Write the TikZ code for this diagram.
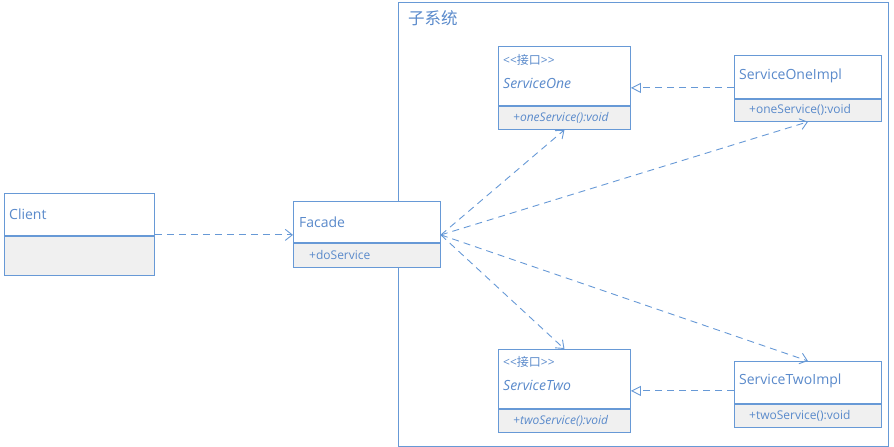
\documentclass[tikz,border=0pt]{standalone}
\usepackage{fontspec}
\setmainfont{Open Sans}
\newfontfamily\cjk{Noto Sans CJK SC}
\usetikzlibrary{arrows.meta,calc,positioning}
\definecolor{UmlLine}{HTML}{6799D6}
\definecolor{UmlText}{HTML}{5A8ACB}
\definecolor{UmlFill}{HTML}{F0F0F0}

\begin{document}
\begin{tikzpicture}[x=1pt,y=-1pt,
    every node/.style={text=UmlText,inner sep=0pt},
    headbox/.style={draw=UmlLine,line width=0.9pt,fill=white,anchor=north west,minimum width=#1},
    opsbox/.style={draw=UmlLine,line width=0.9pt,fill=UmlFill,minimum width=#1},
    nametext/.style={anchor=west,font=\fontsize{14}{16}\selectfont},
    optext/.style={anchor=west,font=\fontsize{12}{14}\selectfont},
    stereo/.style={anchor=west,font=\fontsize{12}{14}\selectfont},
    dep/.style={draw=UmlLine,line width=0.9pt,dash pattern=on 7pt off 5pt,-{Straight Barb[length=7pt,width=11pt]}},
    realize/.style={draw=UmlLine,line width=0.9pt,dash pattern=on 7pt off 5pt,-{Triangle[open,length=10pt,width=10pt,fill=white]}}
]
  \useasboundingbox (0,0) rectangle (894,447);

  % subsystem frame
  \node[draw=UmlLine,line width=0.9pt,anchor=north west,minimum width=490pt,minimum height=444pt] (subsys) at (398,2) {};
  \node[anchor=west,font=\cjk\fontsize{16.5}{18}\selectfont] (subsyslabel) at (408,18) {子系统};

  % Client
  \node[headbox=150pt,minimum height=42pt] (clienthead) at (4,193) {};
  \node[opsbox=150pt,minimum height=39pt,below=0pt of clienthead] (clientops) {};
  \node[nametext] (clientname) at ($(clienthead.north west)+(5,21)$) {Client};

  % Facade
  \node[headbox=147pt,minimum height=41pt] (facadehead) at (293,201) {};
  \node[opsbox=147pt,minimum height=24pt,below=0pt of facadehead] (facadeops) {};
  \node[nametext] (facadename) at ($(facadehead.north west)+(6,21)$) {Facade};
  \node[optext] (facadeop) at ($(facadeops.west)+(16,0)$) {+doService};

  % ServiceOne
  \node[headbox=132pt,minimum height=59pt] (onehead) at (498,46) {};
  \node[opsbox=132pt,minimum height=23pt,below=0pt of onehead] (oneops) {};
  \node[stereo] (onestereo) at ($(onehead.north west)+(5,14)$) {{<}{<}{\cjk 接口}{>}{>}};
  \node[nametext] (onename) at ($(onehead.north west)+(5,37)$) {\itshape ServiceOne};
  \node[optext] (oneop) at ($(oneops.west)+(15,0)$) {\itshape +oneService():void};

  % ServiceOneImpl
  \node[headbox=147pt,minimum height=43pt] (oneimplhead) at (734,55) {};
  \node[opsbox=147pt,minimum height=22pt,below=0pt of oneimplhead] (oneimplops) {};
  \node[nametext] (oneimplname) at ($(oneimplhead.north west)+(5,21)$) {ServiceOneImpl};
  \node[optext] (oneimplop) at ($(oneimplops.west)+(15,0)$) {+oneService():void};

  % ServiceTwo
  \node[headbox=132pt,minimum height=59pt] (twohead) at (498,349) {};
  \node[opsbox=132pt,minimum height=23pt,below=0pt of twohead] (twoops) {};
  \node[stereo] (twostereo) at ($(twohead.north west)+(5,13)$) {{<}{<}{\cjk 接口}{>}{>}};
  \node[nametext] (twoname) at ($(twohead.north west)+(5,36)$) {\itshape ServiceTwo};
  \node[optext] (twoop) at ($(twoops.west)+(15,0)$) {\itshape +twoService():void};

  % ServiceTwoImpl
  \node[headbox=147pt,minimum height=42pt] (twoimplhead) at (734,361) {};
  \node[opsbox=147pt,minimum height=23pt,below=0pt of twoimplhead] (twoimplops) {};
  \node[nametext] (twoimplname) at ($(twoimplhead.north west)+(5,20)$) {ServiceTwoImpl};
  \node[optext] (twoimplop) at ($(twoimplops.west)+(15,0)$) {+twoService():void};

  % connectors
  \coordinate (hub) at ($(facadehead.south east)+(0,-8)$);
  \draw[dep] ($(clienthead.south east)+(0,-1)$) -- ($(clienthead.south east -| facadehead.west)+(0,-1)$);
  \draw[dep] (hub) -- (oneops.south);
  \draw[dep] (hub) -- (oneimplops.south);
  \draw[dep] (hub) -- (twohead.north);
  \draw[dep] (hub) -- (twoimplhead.north);
  \draw[realize] ($(oneimplhead.south west)+(0,-11)$) -- ($(oneimplhead.south west -| onehead.east)+(0,-11)$);
  \draw[realize] ($(twoimplhead.south west)+(0,-13)$) -- ($(twoimplhead.south west -| twohead.east)+(0,-13)$);
\end{tikzpicture}
\end{document}
